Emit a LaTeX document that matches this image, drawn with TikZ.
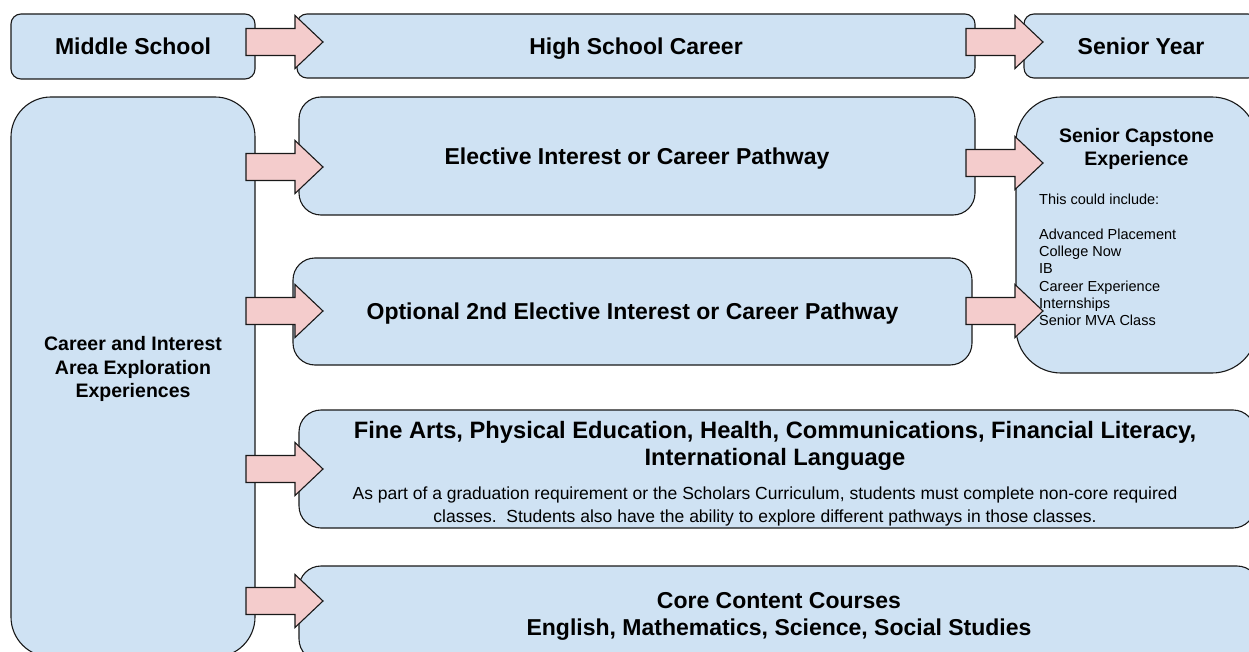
\documentclass[tikz,border=0pt]{standalone}
\usepackage{fontspec}
\setmainfont{Liberation Sans}
\definecolor{boxblue}{HTML}{CFE2F3}
\definecolor{arrowpink}{HTML}{F4CCCC}
\newcommand{\ttl}{\fontsize{23}{27}\selectfont\bfseries}
\newcommand{\subttl}{\fontsize{19.5}{23.5}\selectfont\bfseries}

\begin{document}
\begin{tikzpicture}[x=1pt,y=-1pt,
  box/.style={draw=black!90,line width=1.1pt,fill=boxblue,inner sep=0pt},
  onerow/.style={font=\ttl,text height=16.5pt,text depth=0pt},
  arrowfill/.style={draw=black!90,line width=1.1pt,fill=arrowpink,line join=miter},
  pics/barrow/.style={code={
    \draw[arrowfill] (0,-13.5)--(49,-13.5)--(49,-26.5)--(77,0)--(49,26.5)--(49,13.5)--(0,13.5)--cycle;}}]
\useasboundingbox (0,0) rectangle (1249,652);
\clip (0,0) rectangle (1249,652);

% top row
\node [box,onerow,rounded corners=10pt,minimum width=244pt,minimum height=65pt] (ms) at (133,46.5) {Middle School};
\node [box,onerow,rounded corners=10pt,minimum width=678pt,minimum height=64pt] (hs) at (636,46) {High School Career};
\node [box,onerow,rounded corners=10pt,minimum width=234pt,minimum height=64pt] (sy) at (1141,46) {Senior Year};

% left box
\node [box,rounded corners=40pt,minimum width=244pt,minimum height=560pt] (lx) at (133,377) {};
\node [font=\subttl,align=center] (lxt) at (133,369) {Career and Interest\\Area Exploration\\Experiences};

% middle column
\node [box,onerow,rounded corners=22pt,minimum width=676pt,minimum height=118pt] (el) at (637,156) {Elective Interest or Career Pathway};
\node [box,onerow,rounded corners=22pt,minimum width=679pt,minimum height=107pt] (op) at (632.5,311.5) {Optional 2nd Elective Interest or Career Pathway};
\node [box,rounded corners=22pt,minimum width=956pt,minimum height=118pt] (fa) at (777,469) {};
\node [font=\fontsize{23.7}{27}\selectfont\bfseries,align=center] (fat) at (775,445.5) {Fine Arts, Physical Education, Health, Communications, Financial Literacy,\\International Language};
\node [font=\fontsize{17.5}{23.5}\selectfont,align=center] (fab) at (765,506.5) {As part of a graduation requirement or the Scholars Curriculum, students must complete non-core required\\classes.\ \ Students also have the ability to explore different pathways in those classes.};
\node [box,rounded corners=22pt,minimum width=960pt,minimum height=95pt] (cc) at (779,613.5) {};
\node [font=\ttl,align=center] (cct) at (779,616.5) {Core Content Courses\\English, Mathematics, Science, Social Studies};

% senior capstone
\node [box,rounded corners=45pt,minimum width=241pt,minimum height=276pt] (cap) at (1136.5,235) {};
\node [font=\subttl,align=center] (capt) at (1136.5,149) {Senior Capstone\\Experience};
\node [font=\fontsize{14.5}{17.3}\selectfont,align=left,anchor=north west,inner sep=0pt] (capl) at (1039,194) {This could include:\\ \\Advanced Placement\\College Now\\IB\\Career Experience\\Internships\\Senior MVA Class};

% arrows
\pic at (246,42) {barrow};
\pic at (966,42) {barrow};
\pic at (246,167) {barrow};
\pic at (246,311) {barrow};
\pic at (246,469) {barrow};
\pic at (246,601) {barrow};
\pic at (966,163) {barrow};
\pic at (966,311) {barrow};
\end{tikzpicture}
\end{document}
